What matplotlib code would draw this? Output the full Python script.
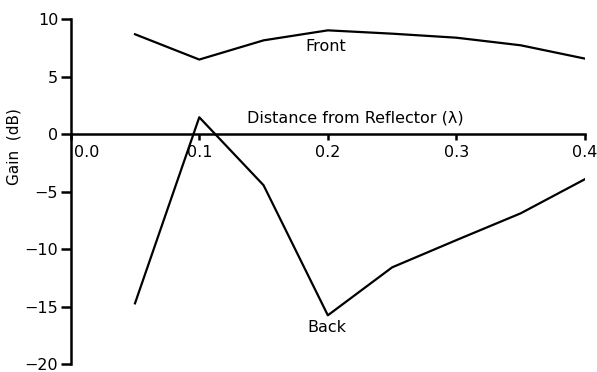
import numpy as np
import matplotlib.pyplot as plt
import matplotlib.transforms as mtransforms

# Gain vs reflector spacing
distance = [0.05, 0.10, 0.15, 0.20, 0.25, 0.30, 0.35, 0.40]
front_gain = [8.7, 6.5, 8.17, 9.04, 8.75, 8.4, 7.74, 6.58]
back_gain = [-14.7, 1.48, -4.43, -15.74, -11.57, -9.2, -6.87, -3.9]

x_ticks = [0.0, 0.1, 0.2, 0.3, 0.4]
x_ticklabels = ['0.0', '0.1', '0.2', '0.3', '0.4']
y_ticks = [-20, -15, -10, -5, 0, 5, 10]
y_ticklabels = ['\u221220', '\u221215', '\u221210', '\u22125', '0', '5', '10']

plt.rcParams['font.family'] = ['DejaVu Sans']
plt.rcParams['font.size'] = 11

fig = plt.figure(figsize=(5.97, 3.72), dpi=100)
ax = fig.add_axes([70.7 / 597, 1 - 364.3 / 372, 514.3 / 597, 345 / 372])

ax.plot(distance, front_gain, color='black', lw=1.6)
ax.plot(distance, back_gain, color='black', lw=1.6)

ax.set_xlim(0, 0.4)
ax.set_ylim(-20, 10)

# axes cross at the origin
for side in ['top', 'right']:
    ax.spines[side].set_visible(False)
ax.spines['left'].set_position(('data', 0))
ax.spines['bottom'].set_position(('data', 0))
ax.spines['left'].set_linewidth(1.8)
ax.spines['bottom'].set_linewidth(1.8)

ax.set_xticks(x_ticks)
ax.set_xticklabels(x_ticklabels)
ax.set_yticks(y_ticks)
ax.set_yticklabels(y_ticklabels)
ax.tick_params(axis='y', width=1.8, length=7, labelsize=11.5, pad=2)
ax.tick_params(axis='x', width=1.8, length=4, labelsize=11.5, pad=4)

# push the 0.0 label clear of the vertical axis
lbl0 = ax.get_xticklabels()[0]
lbl0.set_transform(lbl0.get_transform() + mtransforms.ScaledTranslation(16 / 100, 0, fig.dpi_scale_trans))

ax.set_ylabel('Gain  (dB)', fontsize=11)
ax.yaxis.set_label_coords(-0.096, 0.63)

ax.text(0.221, 1.45, 'Distance from Reflector (\u03bb)', ha='center', va='center', fontsize=11.5)
ax.text(0.198, 7.6, 'Front', ha='center', va='center', fontsize=11.5)
ax.text(0.199, -16.8, 'Back', ha='center', va='center', fontsize=11.5)

fig.savefig('out.png', dpi=100)
